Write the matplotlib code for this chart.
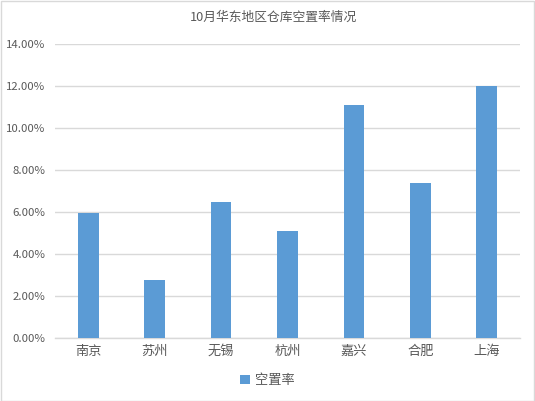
import matplotlib
matplotlib.use("Agg")
import matplotlib.pyplot as plt
from matplotlib.patches import Rectangle
from matplotlib.ticker import FuncFormatter

plt.rcParams["font.family"] = ["Noto Sans CJK SC", "DejaVu Sans"]

# --- data ---
cities = ["南京", "苏州", "无锡", "杭州", "嘉兴", "合肥", "上海"]
vacancy = [5.97, 2.78, 6.49, 5.11, 11.11, 7.40, 12.00]
yticks = [0, 2, 4, 6, 8, 10, 12, 14]

BAR = "#5B9BD5"
TEXT = "#595959"
GRID = "#D9D9D9"

fig = plt.figure(figsize=(5.35, 4.01), dpi=100)
ax = fig.add_axes([0.1028, 0.157, 0.8692, 0.7325])

ax.bar(range(len(cities)), vacancy, width=0.313, color=BAR, zorder=3, label="空置率")

ax.set_ylim(0, 14)
ax.set_xlim(-0.5, len(cities) - 0.5)
ax.set_yticks(yticks)
ax.yaxis.set_major_formatter(FuncFormatter(lambda v, p: f"{v:.2f}%"))
ax.set_xticks(range(len(cities)))
ax.set_xticklabels(cities)

ax.grid(axis="y", color=GRID, linewidth=1, zorder=0)
for s in ["top", "right", "left"]:
    ax.spines[s].set_visible(False)
ax.spines["bottom"].set_color(GRID)
ax.spines["bottom"].set_linewidth(1)
ax.tick_params(axis="both", length=0, colors=TEXT)
ax.tick_params(axis="y", pad=7, labelsize=8.2)
ax.tick_params(axis="x", pad=5, labelsize=9.5)

fig.text(0.511, 0.957, "10月华东地区仓库空置率情况", ha="center", va="center",
         fontsize=9.2, color=TEXT)

leg = fig.legend(loc="center", bbox_to_anchor=(0.5, 0.05), frameon=False,
                 fontsize=9.5, handlelength=0.7, handleheight=0.7, handletextpad=0.4)
for t in leg.get_texts():
    t.set_color(TEXT)

# chart border
fig.patches.append(Rectangle((0.001, 0.001), 0.997, 0.997, transform=fig.transFigure,
                             fill=False, edgecolor=GRID, linewidth=1))

plt.savefig("out.png", dpi=100)
